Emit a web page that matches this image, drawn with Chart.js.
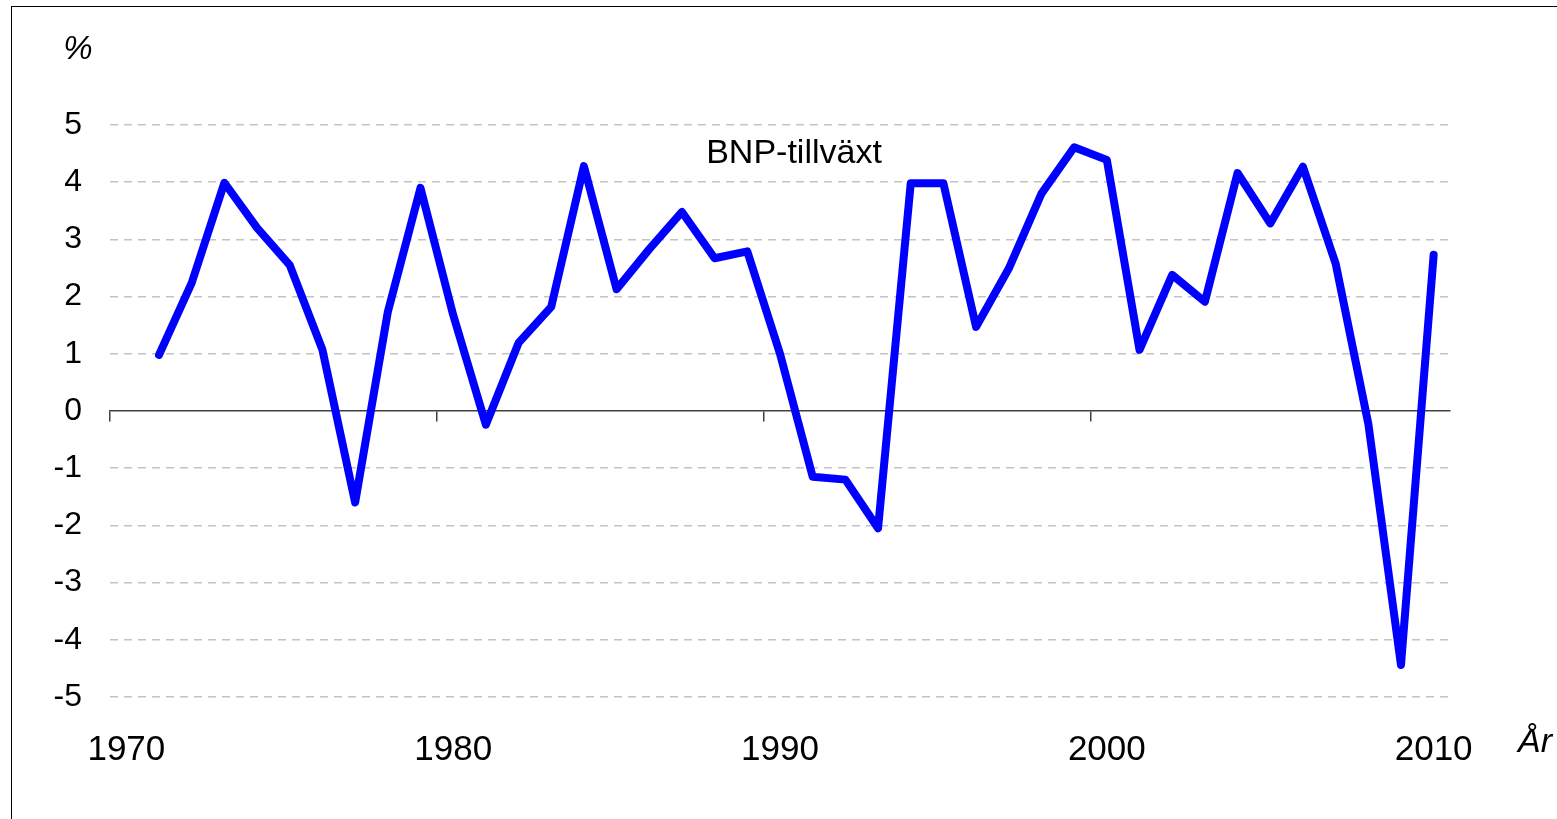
<!DOCTYPE html>
<html lang="sv">
<head>
    <meta charset="UTF-8">
    <title>BNP-tillväxt</title>
    <script src="https://cdn.jsdelivr.net/npm/chart.js"></script>
    <style>
        body { margin: 0; padding: 0; background: #fff; font-family: "Liberation Sans", Arial, sans-serif; }
        #wrap { position: relative; width: 1557px; height: 819px; overflow: hidden; }
        #frame { position: absolute; left: 11px; top: 6px; right: -5px; bottom: -5px; border-left: 1px solid #000; border-top: 1px solid #000; }
        canvas { position: absolute; left: 0; top: 0; }
        .txt { position: absolute; transform: translate(-50%, -50%); white-space: nowrap; color: #000; line-height: 1; }
        .it { font-style: italic; }
    </style>
</head>
<body>
<div id="wrap">
    <div id="frame"></div>
    <canvas id="gdp" width="1557" height="819"></canvas>
    <div class="txt it" style="left:78px; top:47px; font-size:33px;">%</div>
    <div class="txt" style="left:794px; top:151px; font-size:34px;">BNP-tillväxt</div>
    <div class="txt it" style="left:1535px; top:740px; font-size:34px;">År</div>
</div>

<script>
    // år 1970-2010, 1970 saknar värde
    const years = [];
    for (let y = 1970; y <= 2010; y++) years.push(String(y));

    const growth = [
        null, 0.98, 2.24, 3.99, 3.2, 2.55, 1.07, -1.6, 1.73, 3.9,
        1.68, -0.24, 1.19, 1.82, 4.28, 2.13, 2.83, 3.48, 2.67, 2.79,
        1.0, -1.15, -1.2, -2.05, 3.98, 3.98, 1.47, 2.49, 3.8, 4.61,
        4.39, 1.07, 2.38, 1.91, 4.16, 3.28, 4.27, 2.58, -0.22, -4.44,
        2.73
    ];

    const yTicks = [-5, -4, -3, -2, -1, 0, 1, 2, 3, 4, 5];

    const font = { family: "'Liberation Sans', Arial, sans-serif", size: 32 };

    new Chart(document.getElementById('gdp'), {
        type: 'line',
        data: {
            labels: years,
            datasets: [{
                label: 'BNP-tillväxt',
                data: growth,
                borderColor: '#0000ff',
                borderWidth: 8,
                borderCapStyle: 'round',
                borderJoinStyle: 'round',
                pointRadius: 0,
                tension: 0,
                xAxisID: 'x',
                yAxisID: 'y'
            }]
        },
        options: {
            responsive: false,
            animation: false,
            layout: { padding: { top: 125, right: 107, left: 0, bottom: 0 } },
            plugins: { legend: { display: false }, tooltip: { enabled: false } },
            scales: {
                x: {
                    type: 'category',
                    position: 'bottom',
                    offset: true,
                    grid: { display: false },
                    border: { display: false },
                    ticks: {
                        autoSkip: false,
                        maxRotation: 0,
                        padding: 24,
                        color: '#000',
                        font: { family: font.family, size: 35 },
                        callback: function (v) {
                            const lab = this.getLabelForValue(v);
                            return Number(lab) % 10 === 0 ? lab : '';
                        }
                    },
                    afterFit: s => { s.height = 122; }
                },
                x0: {
                    type: 'category',
                    position: { y: 0 },
                    offset: true,
                    grid: {
                        offset: true,
                        drawOnChartArea: false,
                        drawTicks: true,
                        tickLength: 10,
                        lineWidth: 1.5,
                        color: ctx => (ctx.index % 10 === 0 && ctx.index < years.length) ? '#404040' : 'rgba(0,0,0,0)'
                    },
                    border: { display: true, color: '#404040', width: 1.5 },
                    ticks: { display: false, autoSkip: false },
                    afterFit: s => { s.height = 0; }
                },
                y: {
                    min: -5,
                    max: 5,
                    afterBuildTicks: s => { s.ticks = yTicks.map(v => ({ value: v })); },
                    grid: {
                        drawTicks: false,
                        lineWidth: 1.5,
                        color: ctx => ctx.tick && ctx.tick.value === 0 ? 'rgba(0,0,0,0)' : '#c4c4c4'
                    },
                    border: { display: false, dash: [8, 6] },
                    ticks: { padding: 28, color: '#000', font: font },
                    afterFit: s => { s.width = 110; }
                }
            }
        }
    });
</script>
</body>
</html>
